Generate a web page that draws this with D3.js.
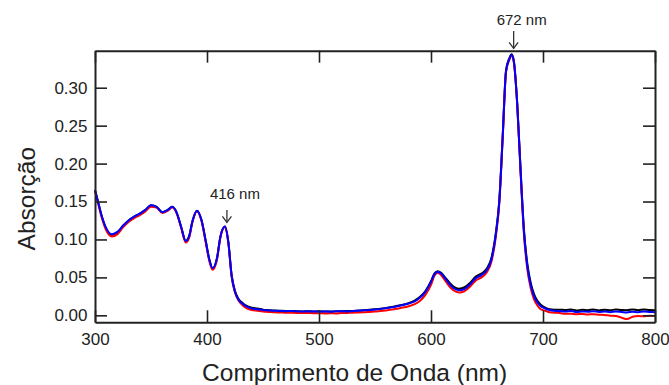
<!DOCTYPE html>
<meta charset="utf-8">
<style>
body { margin: 0; background: #fff; }
svg { display: block; font-family: Arial, "Liberation Sans", sans-serif; }
.axis path, .axis line { stroke: #222; }
.axis text { fill: #222; font-size: 17px; }
.spec { fill: none; stroke-width: 2; stroke-linejoin: round; }
</style>
<svg width="669" height="385"></svg>
<script src="https://d3js.org/d3.v7.min.js"></script>
<script>

// wavelength (nm)
var wavelength = [
  300,303,306,310,315,320,325,330,335,340,345,350,355,360,365,369,373,377,381,384,387,391,395,399,402,405,409,412,416,419,422,425,428,432,436,440,
  445,450,455,460,465,470,475,480,485,490,495,500,505,510,515,520,525,530,535,540,545,550,555,560,565,570,575,580,585,590,595,600,
  603,606,609,612,616,620,625,630,635,640,645,650,654,658,661,664,667,670,672,674,677,680,683,686,689,692,695,698,702,706,710,
  715,720,725,730,735,740,745,750,755,760,765,770,775,780,785,790,795,800];

var absBlack = [
  .165,.148,.131,.114,.106,.109,.118,.125,.130,.134,.139,.145,.143,.136,.139,.143,.135,.116,.098,.104,.124,.138,.126,.097,.074,.062,.076,.104,.117,.097,.053,.032,.022,.016,.012,.010,
  .009,.0075,.0068,.0062,.006,.0057,.0058,.0055,.0052,.0055,.005,.0053,.0049,.005,.0052,.0054,.0056,.0057,.0062,.0068,.0072,.0079,.0088,.0097,.011,.0125,.014,.016,.019,.024,.032,.045,
  .055,.058,.056,.051,.044,.038,.035,.037,.043,.051,.055,.062,.076,.110,.152,.236,.323,.339,.344,.335,.279,.192,.113,.068,.043,.028,.019,.014,.010,.008,.0075,
  .0075,.007,.0078,.0065,.0072,.0068,.0078,.0065,.0074,.0066,.0078,.007,.0068,.0076,.0068,.0078,.007,.0068];

var absRed = [
  .164,.146,.129,.112,.104,.107,.116,.123,.128,.132,.137,.143,.142,.135,.138,.142,.134,.115,.096,.102,.123,.137,.125,.095,.072,.060,.074,.103,.116,.096,.051,.030,.020,.013,.009,.007,
  .006,.005,.0045,.004,.0038,.0035,.0034,.0032,.003,.0031,.0027,.0028,.0024,.0027,.0025,.003,.0032,.0035,.0037,.004,.0045,.005,.0056,.0065,.0075,.0088,.0102,.012,.0145,.019,.027,.040,
  .052,.056,.053,.047,.039,.033,.030,.032,.038,.046,.050,.057,.071,.105,.148,.233,.321,.337,.342,.333,.277,.188,.107,.061,.036,.021,.013,.008,.006,.004,.0035,
  .003,.002,.0022,.0015,.0018,.0012,.0014,.0008,.0005,-.0005,-.001,-.003,-.005,-.002,-.001,-.0012,-.0005,-.0008];

var absBlue = [
  .165,.148,.131,.115,.107,.110,.118,.125,.130,.134,.139,.145,.143,.136,.139,.143,.135,.116,.098,.104,.124,.138,.126,.097,.074,.062,.076,.104,.117,.097,.052,.031,.021,.015,.011,.009,
  .008,.007,.0065,.006,.0058,.0055,.0056,.0052,.005,.0053,.0049,.005,.0052,.0048,.0053,.0055,.0052,.0058,.006,.0066,.007,.0078,.0085,.0095,.0105,.012,.0135,.0155,.018,.023,.031,.044,
  .054,.0575,.055,.050,.042,.036,.033,.035,.041,.049,.053,.060,.074,.108,.150,.235,.322,.338,.343,.334,.278,.190,.110,.065,.040,.025,.017,.012,.009,.007,.006,
  .0055,.005,.0058,.0045,.0052,.0048,.0055,.0045,.0052,.0042,.005,.0045,.0038,.0048,.0042,.005,.0045,.004];

var seriesColors = ["#000000", "#ff0000", "#0000ff"];

var xTicks = [300, 400, 500, 600, 700, 800];
var yTicks = [0, 0.05, 0.10, 0.15, 0.20, 0.25, 0.30];

var peakNm = [416, 672];
var peakLabels = ["416 nm", "672 nm"];

var svg = d3.select("svg");

var x = d3.scaleLinear().domain([300, 800]).range([95, 655]);
var y = d3.scaleLinear().domain([-0.0092, 0.3488]).range([322.3, 50.7]);

// spectra
var line = d3.line()
    .x(function(d) { return x(d[0]); })
    .y(function(d) { return y(d[1]); })
    .curve(d3.curveMonotoneX);

[absBlack, absRed, absBlue].forEach(function(s, i) {
  svg.append("path")
      .attr("class", "spec")
      .attr("stroke", seriesColors[i])
      .attr("d", line(wavelength.map(function(w, j) { return [w, s[j]]; })));
});

// frame with mirrored inward ticks
svg.append("g")
    .attr("class", "axis")
    .attr("transform", "translate(0," + y.range()[0] + ")")
    .call(d3.axisBottom(x).tickValues(xTicks).tickSizeInner(-12).tickSizeOuter(0).tickPadding(11))
    .call(function(g) { g.select(".domain").attr("stroke-width", 2); });

svg.append("g")
    .attr("class", "axis")
    .attr("transform", "translate(0," + y.range()[1] + ")")
    .call(d3.axisTop(x).tickValues(xTicks).tickSizeInner(-12).tickSizeOuter(0).tickFormat(""))
    .call(function(g) { g.select(".domain").attr("stroke-width", 2); });

svg.append("g")
    .attr("class", "axis")
    .attr("transform", "translate(" + x.range()[0] + ",0)")
    .call(d3.axisLeft(y).tickValues(yTicks).tickSizeInner(-12).tickSizeOuter(0).tickPadding(7.5).tickFormat(d3.format(".2f")))
    .call(function(g) { g.select(".domain").attr("stroke-width", 2); });

svg.append("g")
    .attr("class", "axis")
    .attr("transform", "translate(" + x.range()[1] + ",0)")
    .call(d3.axisRight(y).tickValues(yTicks).tickSizeInner(-12).tickSizeOuter(0).tickFormat(""))
    .call(function(g) { g.select(".domain").attr("stroke-width", 2); });

svg.selectAll(".axis line").attr("stroke-width", 1.6);
svg.selectAll(".axis text").attr("font-family", null);

// axis titles
svg.append("text")
    .attr("x", 354.6)
    .attr("y", 381)
    .attr("text-anchor", "middle")
    .attr("fill", "#222")
    .attr("font-size", "24.5px")
    .text("Comprimento de Onda (nm)");

svg.append("text")
    .attr("transform", "translate(34.5,198.7) rotate(-90)")
    .attr("text-anchor", "middle")
    .attr("fill", "#222")
    .attr("font-size", "24.5px")
    .text("Absorção");

// peak annotations
var arrowTop = [210, 31], arrowTip = [222.3, 48.3], labelY = [199.3, 25];

peakNm.forEach(function(nm, i) {
  var ax = x(nm) + 2;
  var g = svg.append("g").attr("stroke", "#333").attr("stroke-width", 1.3).attr("fill", "none");
  g.append("line").attr("x1", ax).attr("x2", ax).attr("y1", arrowTop[i]).attr("y2", arrowTip[i]);
  g.append("path").attr("d", "M" + (ax - 4.5) + "," + (arrowTip[i] - 6) + "L" + ax + "," + arrowTip[i] + "L" + (ax + 4.5) + "," + (arrowTip[i] - 6));
  svg.append("text")
      .attr("x", ax - 17)
      .attr("y", labelY[i])
      .attr("fill", "#222")
      .attr("font-size", "15px")
      .text(peakLabels[i]);
});

</script>
